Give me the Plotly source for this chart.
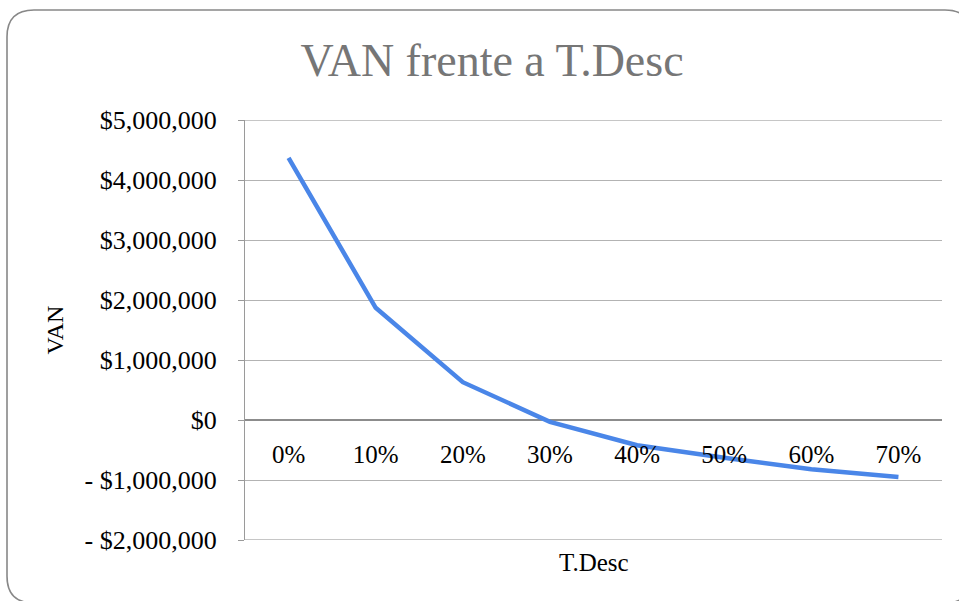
import plotly.graph_objects as go

# ---- data ----
categories = ["0%", "10%", "20%", "30%", "40%", "50%", "60%", "70%"]
van_values = [4370000, 1870000, 630000, -30000, -420000, -630000, -820000, -950000]
y_tickvals = [5000000, 4000000, 3000000, 2000000, 1000000, 0, -1000000, -2000000]
y_ticktext = ["$5,000,000", "$4,000,000", "$3,000,000", "$2,000,000", "$1,000,000",
              "$0", "- $1,000,000", "- $2,000,000"]
title_text = "VAN frente a T.Desc"
x_title = "T.Desc"
y_title = "VAN"

# ---- layout geometry (pixels) ----
W, H = 959, 601
L, R, T, B = 245, 942, 120, 540
FONT = "Liberation Serif"


def px(x):
    return (x - L) / (R - L)


def py(y):
    return (B - y) / (B - T)


fig = go.Figure()
fig.add_trace(go.Scatter(
    x=categories, y=van_values, mode="lines", xaxis="x2",
    line=dict(color="#4a86e8", width=4.5), hoverinfo="skip", showlegend=False,
))

# rounded outer border
x0, y0, x1, y1, r = 7, 10, 972, 603, 27
path = (f"M {px(x0)},{py(y0 + r)} Q {px(x0)},{py(y0)} {px(x0 + r)},{py(y0)} "
        f"L {px(x1 - r)},{py(y0)} Q {px(x1)},{py(y0)} {px(x1)},{py(y0 + r)} "
        f"L {px(x1)},{py(y1 - r)} Q {px(x1)},{py(y1)} {px(x1 - r)},{py(y1)} "
        f"L {px(x0 + r)},{py(y1)} Q {px(x0)},{py(y1)} {px(x0)},{py(y1 - r)} Z")

edge_lines = [dict(type="line", xref="paper", yref="y", x0=0, x1=1,
                   y0=v, y1=v, line=dict(color="#b3b3b3", width=1.3), layer="below")
              for v in (max(y_tickvals), min(y_tickvals))]

fig.update_layout(
    width=W, height=H,
    margin=dict(l=L, r=W - R, t=T, b=H - B),
    paper_bgcolor="white", plot_bgcolor="white",
    font=dict(family=FONT, color="black", size=25),
    title=dict(text=title_text, x=492 / W, xanchor="center", y=1 - 60 / H, yanchor="middle",
               font=dict(family=FONT, size=46, color="#767676")),
    xaxis=dict(matches="x2", showticklabels=False, showgrid=False, zeroline=False,
               showline=False),
    xaxis2=dict(type="category", range=[-0.5, 7.5], overlaying="x", anchor="free",
                position=py(420), side="bottom", showgrid=False, zeroline=False,
                showline=False, ticks="", ticklabelstandoff=17,
                tickfont=dict(family=FONT, size=25)),
    yaxis=dict(range=[-2000000, 5000000], tickvals=y_tickvals, ticktext=y_ticktext,
               showgrid=True, gridcolor="#b3b3b3", gridwidth=1.3,
               zeroline=True, zerolinecolor="#8c8c8c", zerolinewidth=1.5,
               showline=True, linecolor="#9a9a9a", linewidth=1.3,
               ticks="outside", ticklen=6, tickcolor="#9a9a9a",
               ticklabelstandoff=16,
               tickfont=dict(family=FONT, size=26),
               title=dict(text=y_title, standoff=14, font=dict(family=FONT, size=24))),
    shapes=edge_lines + [dict(type="path", path=path, xref="paper", yref="paper",
                              line=dict(color="#888888", width=1.6), layer="above")],
    annotations=[dict(text=x_title, xref="paper", yref="paper", x=px(594), y=py(562),
                      xanchor="center", yanchor="middle", showarrow=False,
                      font=dict(family=FONT, size=25))],
)

fig.write_html("out.html", config={"displayModeBar": False},
               post_script="document.body.style.margin='0';document.body.style.padding='0';")
